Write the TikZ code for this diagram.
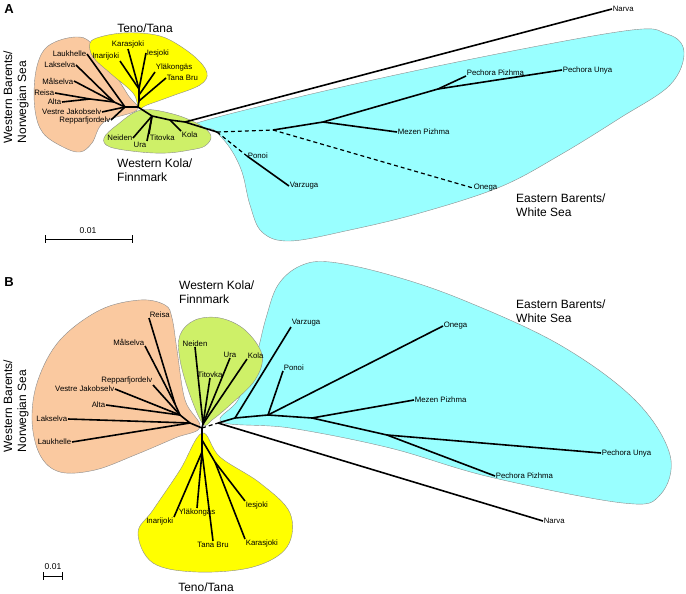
\documentclass[tikz,border=0pt]{standalone}
\usepackage{fontspec}
\setmainfont{Liberation Sans}

\definecolor{barentsW}{RGB}{250,201,160}
\definecolor{tenoY}{RGB}{255,255,0}
\definecolor{kolaG}{RGB}{206,240,104}
\definecolor{barentsE}{RGB}{153,255,255}

\tikzset{
  branch/.style={line width=1.6pt},
  dbranch/.style={line width=1.2pt, dash pattern=on 4pt off 3pt},
  leaf/.style={font=\fontsize{7.8}{9}\selectfont, inner sep=0.6pt},
  group/.style={font=\fontsize{12}{14}\selectfont, align=left, inner sep=0pt},
  blob/.style={draw=black!45, line width=0.4pt},
  panel/.style={font=\bfseries\fontsize{13}{14}\selectfont}
}

\begin{document}
\begin{tikzpicture}[x=1pt,y=-1pt]

\useasboundingbox (0,0) rectangle (686,594);

%%%%%%%%%%%%%%%%%%%%%%%%%%%%%%%% Panel A
\node[panel] (labA) at (9,9) {A};

% Draw the coloured groups
\filldraw[blob, fill=barentsE] plot[smooth cycle, tension=0.6] coordinates {(200,122) (400,74) (617,32) (667,34) (684,52) (670,85) (620,118) (560,155) (500,187) (420,213) (350,230) (290,241) (262,232) (250,205) (242,172) (230,148) (214,130)};
\filldraw[blob, fill=barentsW] plot[smooth cycle, tension=0.6] coordinates {(137,110) (128,95) (110,67) (90,42) (76,37) (55,42) (42,53) (35,77) (35,110) (43,133) (63,147) (80,152) (92,143) (104,122)};
\filldraw[blob, fill=tenoY] plot[smooth cycle, tension=0.6] coordinates {(139,108) (133,93) (110,73) (93,57) (90,43) (100,37) (123,33) (150,34) (170,40) (195,57) (207,73) (200,85) (172,96) (147,105)};
\filldraw[blob, fill=kolaG] plot[smooth cycle, tension=0.6] coordinates {(141,110) (173,114) (200,125) (211,136) (205,146) (190,150) (167,153) (140,152) (110,147) (104,138) (117,125)};

% internal nodes
\coordinate (a0) at (138,107);
\coordinate (w1) at (125,107);
\coordinate (w2) at (114,102);
\coordinate (w3) at (90,99);
\coordinate (t1) at (139,101);
\coordinate (t2) at (139,95);
\coordinate (t3) at (139,89);
\coordinate (k1) at (152,116);
\coordinate (k2) at (170,120);
\coordinate (e0) at (185,122);
\coordinate (e1) at (217,132);
\coordinate (e2) at (273,130);
\coordinate (e4) at (323,122);
\coordinate (e5) at (438,89);

% leaves
\node[leaf, anchor=east] (lauA) at (87,54) {Laukhelle};
\node[leaf, anchor=east] (lakA) at (76,65) {Lakselva};
\node[leaf, anchor=east] (malA) at (74,81) {Målselva};
\node[leaf, anchor=east] (reiA) at (55,93) {Reisa};
\node[leaf, anchor=east] (altA) at (62,102) {Alta};
\node[leaf, anchor=east] (vesA) at (102,112) {Vestre Jakobselv};
\node[leaf, anchor=east] (repA) at (111,120) {Repparfjordelv};

\node[leaf, anchor=south] (karA) at (128,49) {Karasjoki};
\node[leaf, anchor=south east] (inaA) at (120,61) {Inarijoki};
\node[leaf, anchor=west] (iesA) at (146,53) {Iesjoki};
\node[leaf, anchor=south west] (ylaA) at (155,72) {Yläkongäs};
\node[leaf, anchor=west] (tanA) at (166,78) {Tana Bru};

\node[leaf, anchor=east] (neiA) at (133,138) {Neiden};
\node[leaf, anchor=north east] (uraA) at (147,141) {Ura};
\node[leaf, anchor=north west] (titA) at (149,134) {Titovka};
\node[leaf, anchor=north west] (kolA) at (181,131) {Kola};

\node[leaf, anchor=west] (narA) at (612,9) {Narva};
\node[leaf, anchor=west] (ponA) at (247,156) {Ponoi};
\node[leaf, anchor=west] (varA) at (289,186) {Varzuga};
\node[leaf, anchor=west] (mezA) at (397,132) {Mezen Pizhma};
\node[leaf, anchor=south west] (ppiA) at (466,76) {Pechora Pizhma};
\node[leaf, anchor=west] (punA) at (562,70) {Pechora Unya};
\node[leaf, anchor=west] (oneA) at (473,188) {Onega};

% branches
\draw[branch] (a0) -- (w1) -- (w2) -- (w3);
\draw[branch] (w1) -- (lauA.east);
\draw[branch] (w1) -- (vesA.east);
\draw[branch] (w1) -- (repA.east);
\draw[branch] (w2) -- (lakA.east);
\draw[branch] (w2) -- (malA.east);
\draw[branch] (w3) -- (reiA.east);
\draw[branch] (w3) -- (altA.east);

\draw[branch] (a0) -- (t1) -- (t2) -- (t3);
\draw[branch] (t1) -- (tanA.west);
\draw[branch] (t2) -- (ylaA.south west);
\draw[branch] (t3) -- (iesA.west);
\draw[branch] (t3) -- (karA.south);
\draw[branch] (t3) -- (inaA.south east);

\draw[branch] (a0) -- (k1) -- (k2) -- (e0);
\draw[branch] (k1) -- (neiA.east);
\draw[branch] (k1) -- (uraA.north east);
\draw[branch] (k1) -- (titA.north west);
\draw[branch] (k2) -- (kolA.north west);

\draw[branch] (e0) -- (narA.west);
\draw[branch] (e0) -- (e1);
\draw[dbranch] (e1) -- (e2);
\draw[dbranch] (e1) -- (ponA.west);
\draw[branch] (ponA.west) -- (varA.west);
\draw[dbranch] (e2) -- (oneA.west);
\draw[branch] (e2) -- (e4) -- (e5);
\draw[branch] (e4) -- (mezA.west);
\draw[branch] (e5) -- (ppiA.south west);
\draw[branch] (e5) -- (punA.west);

% group names
\node[group] (tenoA) at (145,28) {Teno/Tana};
\node[group, anchor=west] (kolaA) at (117,170) {Western Kola/\\Finnmark};
\node[group, anchor=west] (eastA) at (516,205) {Eastern Barents/\\White Sea};
\node[group, rotate=90] (westA) at (16,97) {Western Barents/\\Norwegian Sea};

% scale bar
\coordinate (sbA1) at (45,239);
\coordinate (sbA2) at (133,239);
\draw[line width=1pt, |-|] (sbA1) -- (sbA2);
\node[leaf, font=\fontsize{8.5}{9}\selectfont] (sbAl) at (88,231) {0.01};

%%%%%%%%%%%%%%%%%%%%%%%%%%%%%%%% Panel B
\node[panel] (labB) at (9,282) {B};

% Draw the coloured groups
\filldraw[blob, fill=barentsE] plot[smooth cycle, tension=0.6] coordinates {(222,422) (238,400) (255,360) (266,318) (278,285) (300,266) (330,262) (390,275) (463,300) (560,345) (635,400) (670,455) (660,495) (623,503) (490,477) (390,448) (290,428)};
\filldraw[blob, fill=barentsW] plot[smooth cycle, tension=0.6] coordinates {(200,427) (185,400) (177,350) (172,318) (165,305) (140,300) (100,310) (60,340) (38,380) (32,420) (40,455) (60,472) (95,470) (135,455) (175,438)};
\filldraw[blob, fill=kolaG] plot[smooth cycle, tension=0.6] coordinates {(203,424) (190,395) (180,360) (180,335) (195,320) (220,318) (245,330) (262,355) (255,380) (230,405) (212,420)};
\filldraw[blob, fill=tenoY] plot[smooth cycle, tension=0.6] coordinates {(202,433) (220,457) (260,483) (290,513) (287,547) (253,567) (197,572) (153,563) (138,533) (153,510) (180,470)};

% internal nodes
\coordinate (b0) at (202,428);
\coordinate (o1) at (190,423);
\coordinate (o2) at (180,415);
\coordinate (o3) at (175,404);
\coordinate (g1) at (203,424);
\coordinate (c0) at (218,423);
\coordinate (c1) at (235,418);
\coordinate (c2) at (268,415);
\coordinate (c3) at (312,418);
\coordinate (c4) at (387,435);
\coordinate (y0) at (202,440);
\coordinate (y1) at (202,452);
\coordinate (y2) at (215,462);

% leaves
\node[leaf, anchor=east] (lauB) at (72,442) {Laukhelle};
\node[leaf, anchor=east] (lakB) at (68,419) {Lakselva};
\node[leaf, anchor=east] (altB) at (106,405) {Alta};
\node[leaf, anchor=east] (vesB) at (115,389) {Vestre Jakobselv};
\node[leaf, anchor=south east] (repB) at (153,385) {Repparfjordelv};
\node[leaf, anchor=south east] (malB) at (145,346) {Målselva};
\node[leaf, anchor=south west] (reiB) at (149,318) {Reisa};

\node[leaf, anchor=south] (neiB) at (195,347) {Neiden};
\node[leaf, anchor=south] (titB) at (210,378) {Titovka};
\node[leaf, anchor=south] (uraB) at (230,358) {Ura};
\node[leaf, anchor=south west] (kolB) at (247,359) {Kola};

\node[leaf, anchor=west] (narB) at (543,521) {Narva};
\node[leaf, anchor=south west] (varB) at (291,327) {Varzuga};
\node[leaf, anchor=south west] (ponB) at (283,371) {Ponoi};
\node[leaf, anchor=west] (oneB) at (443,326) {Onega};
\node[leaf, anchor=west] (mezB) at (414,400) {Mezen Pizhma};
\node[leaf, anchor=west] (punB) at (601,453) {Pechora Unya};
\node[leaf, anchor=west] (ppiB) at (495,476) {Pechora Pizhma};

\node[leaf, anchor=north east] (inaB) at (174,517) {Inarijoki};
\node[leaf, anchor=north] (ylaB) at (197,508) {Yläkongäs};
\node[leaf, anchor=north] (tanB) at (213,541) {Tana Bru};
\node[leaf, anchor=north west] (iesB) at (245,501) {Iesjoki};
\node[leaf, anchor=north west] (karB) at (245,539) {Karasjoki};

% branches
\draw[branch] (b0) -- (o1) -- (o2) -- (o3);
\draw[branch] (o1) -- (lauB.east);
\draw[branch] (o1) -- (lakB.east);
\draw[branch] (o2) -- (altB.east);
\draw[branch] (o2) -- (vesB.east);
\draw[branch] (o2) -- (repB.south east);
\draw[branch] (o3) -- (malB.south east);
\draw[branch] (o3) -- (reiB.south west);

\draw[branch] (b0) -- (g1);
\draw[branch] (g1) -- (neiB.south);
\draw[branch] (g1) -- (titB.south);
\draw[branch] (g1) -- (uraB.south);
\draw[branch] (g1) -- (kolB.south west);

\draw[dbranch] (b0) -- (c0);
\draw[branch] (c0) -- (narB.west);
\draw[branch] (c0) -- (c1) -- (c2) -- (c3) -- (c4);
\draw[branch] (c1) -- (varB.south west);
\draw[branch] (c2) -- (ponB.south west);
\draw[branch] (c2) -- (oneB.west);
\draw[branch] (c3) -- (mezB.west);
\draw[branch] (c4) -- (punB.west);
\draw[branch] (c4) -- (ppiB.west);

\draw[branch] (b0) -- (y0) -- (y1);
\draw[branch] (y0) -- (y2);
\draw[branch] (y1) -- (inaB.north east);
\draw[branch] (y1) -- (ylaB.north);
\draw[branch] (y1) -- (tanB.north);
\draw[branch] (y2) -- (iesB.north west);
\draw[branch] (y2) -- (karB.north west);

% group names
\node[group, anchor=west] (kolaB) at (179,292) {Western Kola/\\Finnmark};
\node[group, anchor=west] (eastB) at (516,311) {Eastern Barents/\\White Sea};
\node[group] (tenoB) at (206,587) {Teno/Tana};
\node[group, rotate=90] (westB) at (16,406) {Western Barents/\\Norwegian Sea};

% scale bar
\coordinate (sbB1) at (43,576);
\coordinate (sbB2) at (63,576);
\draw[line width=1pt, |-|] (sbB1) -- (sbB2);
\node[leaf, font=\fontsize{8.5}{9}\selectfont] (sbBl) at (53,567) {0.01};

\end{tikzpicture}
\end{document}
